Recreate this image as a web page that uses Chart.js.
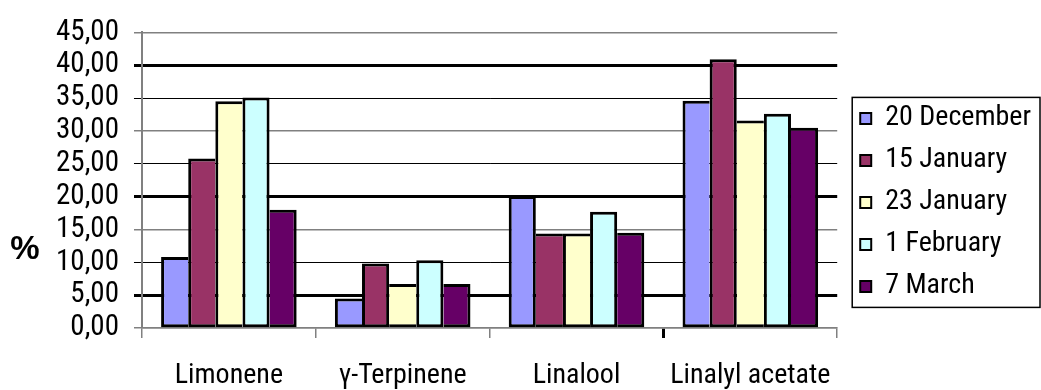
<!DOCTYPE html>
<html>
<head>
<meta charset="utf-8">
<script src="https://cdn.jsdelivr.net/npm/chart.js@4/dist/chart.umd.min.js"></script>
<style>
  html, body { margin: 0; padding: 0; background: #fff; }
  #wrap { width: 1041px; height: 390px; position: relative; }
</style>
</head>
<body>
<div id="wrap"><canvas id="c"></canvas></div>
<script>
// Essential oil components per sampling date (%)
const categories = ['Limonene', 'γ-Terpinene', 'Linalool', 'Linalyl acetate'];
const seriesNames = ['20 December', '15 January', '23 January', '1 February', '7 March'];
const dec20 = [10.8, 4.5, 20.1, 34.6];
const jan15 = [25.8, 9.8, 14.4, 40.9];
const jan23 = [34.5, 6.7, 14.4, 31.6];
const feb1 = [35.1, 10.3, 17.7, 32.6];
const mar7 = [18.0, 6.7, 14.5, 30.5];
const seriesColors = ['#9999ff', '#993366', '#ffffcc', '#ccffff', '#660066'];
const yMin = 0, yMax = 45, yStep = 5;

const allSeries = [dec20, jan15, jan23, feb1, mar7];
// no Arial Narrow here, Roboto's condensed face is the closest
const FONT = 'Roboto, "Liberation Sans", sans-serif';
const cond = (size, extra = {}) => ({ family: FONT, size, weight: 'condensed', ...extra });

// draw each shared edge between neighbouring bars only once (by the taller bar)
function barBorder(ctx) {
  if (ctx.type !== 'data') return 3;
  const i = ctx.datasetIndex, j = ctx.dataIndex;
  const h = allSeries[i][j];
  const prev = i > 0 ? allSeries[i - 1][j] : -1;
  const next = i < allSeries.length - 1 ? allSeries[i + 1][j] : -1;
  return { top: 3, bottom: 3, left: prev <= h ? 3 : 0, right: next < h ? 3 : 0 };
}

function gridStyle(v) {
  if (v === 5 || v === 20 || v === 40) return { c: '#000', w: 3 };
  if (v === 10 || v === 25 || v === 35) return { c: '#000', w: 1 };
  return { c: '#808080', w: 1.5 };
}

const legendBox = {
  id: 'legendBox',
  afterDraw(chart) {
    const lg = chart.legend;
    if (!lg || !lg.legendHitBoxes.length) return;
    const hb = lg.legendHitBoxes;
    const c = chart.ctx;
    const x0 = hb[0].left - 8, y0 = hb[0].top - 7;
    const y1 = hb[hb.length - 1].top + hb[hb.length - 1].height + 7;
    c.save();
    c.strokeStyle = '#000';
    c.lineWidth = 1.5;
    c.strokeRect(x0, y0, chart.width - 1 - x0, y1 - y0);
    c.restore();
  },
};

const percentLabel = {
  id: 'percentLabel',
  afterDraw(chart) {
    const c = chart.ctx;
    c.save();
    c.font = 'bold 33px "Liberation Sans", Arial, sans-serif';
    c.fillStyle = '#000';
    c.textAlign = 'center';
    c.textBaseline = 'middle';
    c.fillText('%', 25, 250);
    c.restore();
  },
};

new Chart(document.getElementById('c'), {
  type: 'bar',
  data: {
    labels: categories,
    datasets: allSeries.map((d, i) => ({
      label: seriesNames[i],
      data: d,
      backgroundColor: seriesColors[i],
      borderColor: '#000',
      borderWidth: barBorder,
      borderSkipped: false,
      barPercentage: 1,
      categoryPercentage: 0.78,
    })),
  },
  options: {
    responsive: true,
    maintainAspectRatio: false,
    animation: false,
    layout: { autoPadding: false, padding: { left: 41, top: 28, right: 0, bottom: 0 } },
    plugins: {
      tooltip: { enabled: false },
      legend: {
        position: 'right',
        align: 'start',
        maxWidth: 300,
        // empty title only pushes the items down to where the reference has them
        title: { display: true, text: '', padding: { top: 0, bottom: 48 } },
        labels: {
          color: '#000',
          font: cond(28),
          boxWidth: 11,
          boxHeight: 11,
          padding: 14,
          generateLabels(chart) {
            return Chart.defaults.plugins.legend.labels.generateLabels(chart)
              .map((l) => ({ ...l, lineWidth: 2, strokeStyle: '#000' }));
          },
        },
      },
    },
    scales: {
      x: {
        afterFit(s) { s.height = 62; },
        grid: {
          offset: true,
          drawOnChartArea: false,
          tickLength: 10,
          color: (ctx) => (ctx.index >= 3 ? '#000' : '#808080'),
          lineWidth: (ctx) => (ctx.index >= 3 ? 3 : 1.5),
        },
        border: { color: '#808080', width: 1.5 },
        ticks: {
          color: '#000', font: cond(28, { lineHeight: 1 }), padding: 24,
          maxRotation: 0, autoSkip: false,
        },
      },
      y: {
        min: yMin,
        max: yMax,
        ticks: {
          stepSize: yStep,
          autoSkip: false,
          color: '#000',
          padding: 15,
          font: cond(29),
          callback: (v) => v.toFixed(2).replace('.', ','),
        },
        grid: {
          tickLength: 8,
          color: (ctx) => gridStyle(ctx.tick.value).c,
          lineWidth: (ctx) => gridStyle(ctx.tick.value).w,
        },
        border: { color: '#808080', width: 2 },
      },
      // empty strip between plot and legend
      gap: {
        position: 'right',
        afterFit(s) { s.width = 9; },
        ticks: { display: false },
        grid: { display: false, drawTicks: false },
        border: { display: false },
      },
    },
  },
  plugins: [legendBox, percentLabel],
});
</script>
</body>
</html>
